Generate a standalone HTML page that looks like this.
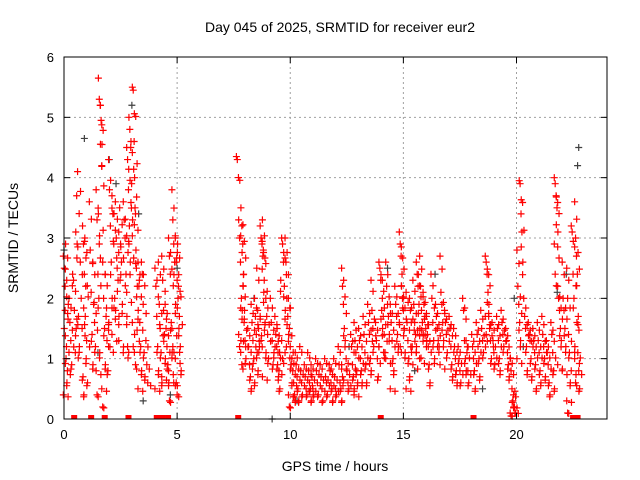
<!DOCTYPE html>
<html><head><meta charset="utf-8"><style>
body{margin:0;background:#fff}
svg{font-family:"Liberation Sans",sans-serif;display:block}
</style></head><body>
<svg id="chart" width="640" height="480" viewBox="0 0 640 480">
<rect width="640" height="480" fill="#fff"/>
<text x="340" y="32" font-size="14" text-anchor="middle">Day 045 of 2025, SRMTID for receiver eur2</text>
<text x="335" y="471" font-size="14" text-anchor="middle">GPS time / hours</text>
<text transform="translate(18,238) rotate(-90)" font-size="14" text-anchor="middle">SRMTID / TECUs</text>
<g id="grid"></g><g id="marks"></g><g id="axes"></g>
</svg>
<script>
const xTicks=[0,5,10,15,20];
const yTicks=[0,1,2,3,4,5,6];
const redTimes=[0.05,0.15,0.3,0.5,0.6,0.8,0.9,1.0,1.2,1.35,1.5,1.6,1.75,1.9,2.05,2.2,2.35,2.5,2.7,2.85,2.95,3.1,3.2,3.35,3.5,3.7,4.1,4.25,4.4,4.55,4.7,4.85,5.0,5.1,
7.7,7.8,7.9,8.0,8.2,8.35,8.5,8.6,8.75,8.85,9.0,9.2,9.4,9.5,9.7,9.85,10.0,10.15,10.3,10.5,10.7,10.85,11.0,11.2,11.4,11.6,11.8,12.0,12.2,12.35,12.55,12.75,12.9,
13.1,13.3,13.5,13.65,13.85,14.0,14.15,14.3,14.5,14.7,14.9,15.0,15.2,15.35,15.5,15.65,15.8,15.95,16.1,16.3,16.5,16.7,16.9,17.1,17.3,17.5,17.7,17.85,18.1,18.3,18.5,18.7,18.85,19.0,19.2,19.4,19.6,19.8,19.95,20.1,20.2,20.4,20.6,20.8,21.0,21.2,21.4,21.6,21.75,21.9,22.1,22.3,22.5,22.65,22.75];
const redValues=[[2.7,2.5,1.8,1.0,0.6,0.4,1.5,2.2],[2.9,1.2,0.8,1.9],[2.0,1.6,1.3,0.9,2.4],[2.3,1.8,1.1,1.5,2.9],[3.1,3.7,4.1,1.7,1.2],[2.6,2.0,1.5,0.7,0.4],[3.2,2.9,2.4,1.7,1.0],[3.0,2.2,1.3,0.6],[3.6,2.8,2.1,1.4,0.9],[2.6,1.9,1.6,1.2],[3.8,3.3,2.4,2.0,1.1,0.8,0.4],[5.65,5.3,5.2,4.95,4.55,3.4,2.9],[4.2,2.6,2.0,1.5,0.9,0.5,0.2],[2.4,1.7,1.3,0.8,1.6],[4.3,3.8,3.2,2.6,2.0,1.2],[3.7,3.4,2.9,2.0,1.8,1.4],[3.6,3.0,2.5,2.3,1.7],[3.1,3.5,2.9,2.6,1.9,1.3],[3.6,3.3,3.0,2.4,1.7,1.1],[4.5,4.3,3.8,3.2,2.6,2.1,1.2],[5.0,4.8,4.5,3.9,3.3,2.9],[5.5,5.45,4.6,3.5,2.8,1.6,1.2],[4.0,3.4,2.5,2.2,1.8,1.4,0.9],[2.6,2.2,1.6,1.2,0.8,0.5],[2.6,2.4,1.9,1.1,0.7],[1.3,0.9,0.6],[2.5,2.2,1.7,1.2,0.8,0.5],[2.6,1.9,1.5,1.1,0.6],[2.7,2.3,1.8,1.4,1.0,0.7],[1.9,1.5,1.2,0.9,0.6],[3.0,2.7,2.4,1.6,1.1,0.8,0.3],[3.8,3.3,2.9,2.6,1.9,1.5,1.2,0.6],[3.0,2.6,2.3,2.0,1.5,1.0,0.6,0.4],[2.9,2.2,1.7,1.2,0.8],
[4.35,4.3],[3.3,3.0,2.6,2.0,1.8,1.4,1.2],[3.5,3.2,2.9,2.4,1.8,1.3,0.9],[2.2,1.6,1.3,1.0],[1.5,1.2,0.9,0.7,0.5],[1.9,1.6,1.3,1.0,0.6],[2.0,1.7,1.4,1.1,0.8],[2.5,1.8,1.5,1.2],[3.2,3.0,2.9,2.7,2.1,1.7,1.3],[3.3,2.8,2.3,1.6,1.1,0.7],[2.0,1.7,1.4,1.0],[2.0,1.6,1.3,0.9,1.1],[1.7,1.4,1.2,0.9,0.7],[1.5,1.1,0.8,0.5,2.3],[3.0,2.9,2.6,2.2,1.8,1.3,1.0],[3.0,2.6,2.0,1.7,1.4,1.1],[2.0,1.5,1.2,0.9,0.6,0.4,0.2],[1.0,0.8,0.6,0.4,0.3],[1.1,0.9,0.7,0.5,0.3],[1.2,0.8,0.6,0.4],[0.9,0.7,0.5,0.4],[1.1,0.8,0.6,0.5,0.3],[0.9,0.7,0.5,0.4],[1.0,0.8,0.6,0.4],[0.9,0.7,0.5,0.3],[1.0,0.7,0.6,0.4],[0.9,0.8,0.6,0.5,0.3],[1.0,0.7,0.5,0.4],[1.2,0.9,0.6,0.5,0.3],[2.5,2.2,1.9,1.5,1.3,0.9,0.7],[1.0,0.8,0.6,0.5],[1.4,1.2,0.9,0.7,0.5],[1.6,1.3,1.1,0.8,0.6,0.4],
[1.5,1.3,1.0,0.8,0.6],[1.7,1.4,1.1,0.9,0.6],[1.9,1.6,1.4,1.0,0.8],[2.3,1.8,1.5,1.2],[1.6,1.3,1.0,0.7],[2.6,2.5,2.3,1.8,1.5,1.2],[2.0,1.7,1.4,1.1],[2.6,2.2,1.9,1.7,1.4,1.0],[1.9,1.6,1.3,1.0,0.8,0.5],[2.2,1.9,1.7,1.4,1.2],[3.1,2.9,2.7,2.4,2.0,1.6,1.2],[2.2,2.0,1.8,1.5,1.1],[2.1,1.6,1.3,1.0,0.7,0.5],[2.0,1.8,1.6,1.2],[2.3,1.9,1.6,1.4,1.2,0.9],[2.6,2.4,2.2,1.9,1.5,1.1],[2.7,2.2,1.8,1.6,1.4,1.0],[2.1,1.9,1.7,1.5,1.3],[1.7,1.4,1.2,0.9,0.6],[2.4,2.0,1.6,1.3,1.0],[1.9,1.7,1.5,1.3,1.2],[2.7,2.1,1.9,1.6,1.3,0.9],[1.8,1.6,1.4,1.1],[1.7,1.5,1.2,0.9,0.7],[1.5,1.2,1.0,0.8,0.6],[1.2,1.0,0.8,0.6],[2.0,1.8,1.3,1.0,0.8],[1.3,1.1,0.8,0.6],[1.4,1.2,1.0,0.8,0.5],[1.6,1.4,1.2,1.0,0.7],[1.8,1.5,1.3,1.1],[2.7,2.6,2.4,2.1,1.9,1.7,1.4],[1.7,1.5,1.3,1.0],[1.6,1.3,1.1,0.9],[1.7,1.5,1.3,1.0,0.8],[1.8,1.6,1.4,1.2],[1.5,1.3,1.1,0.9,0.7],[1.0,0.8,0.5,0.3,0.2,0.1,0.05],[0.4,0.2,0.1],[2.8,2.2,1.9,1.6,1.3,1.0],[3.95,3.9,3.4,3.1,2.6],[2.0,1.7,1.5,1.2,0.8],[1.6,1.4,1.3,1.0,0.7],[1.5,1.3,1.1,0.9,0.5],[1.6,1.3,1.1,0.8,0.6],[1.7,1.4,1.2,1.0,0.7],[1.3,1.1,0.9,0.6,0.4],[1.6,1.4,1.1,0.8,0.5],[4.0,3.9,3.7,3.5,3.1,2.9,2.4],[2.2,2.0,1.8,1.5,1.3,0.9],[2.6,2.0,1.8,1.5,1.2,0.8],[2.5,2.0,1.4,1.1,0.6,0.3,0.1],[3.2,3.1,2.4,2.0,1.2,0.8],[3.6,3.0,2.7,2.4,1.7,1.0,0.6],[1.6,1.1,0.8,0.5]];
const grayTimes=[0.0,0.9,1.5,2.0,2.3,3.0,3.3,3.5,4.7,5.0,8.4,9.2,10.3,12.6,14.3,15.5,16.4,18.5,19.9,20.3,21.8,22.2,22.7,22.75];
const grayValues=[2.8,4.65,1.1,4.3,3.9,5.2,3.4,0.3,0.4,2.5,2.0,0,0.3,1.2,2.5,0.8,2.4,0.5,2.0,1.2,2.1,2.4,4.2,4.5];
const zeroTimes=[0.45,1.2,1.8,2.85,4.1,4.25,4.35,4.6,7.7,14.0,18.1,22.5,22.7];

const X0=64,X1=607,Y0=419,Y1=57,XMAX=24,YMAX=6;
const xs=t=>X0+(t/XMAX)*(X1-X0);
const ys=v=>Y0-(v/YMAX)*(Y0-Y1);
const NS='http://www.w3.org/2000/svg';
function mk(tag,attrs,parent){const e=document.createElementNS(NS,tag);for(const k in attrs)e.setAttribute(k,attrs[k]);parent.appendChild(e);return e;}
const grid=document.getElementById('grid'),marks=document.getElementById('marks'),axes=document.getElementById('axes');
xTicks.forEach(t=>{
 if(t>0){const g=mk('line',{x1:xs(t),x2:xs(t),y1:Y1,y2:Y0,stroke:'#a0a0a0','stroke-dasharray':'2,3'},grid);
 
 }
 mk('line',{x1:xs(t),x2:xs(t),y1:Y0,y2:Y0-6,stroke:'#000'},axes);
 mk('line',{x1:xs(t),x2:xs(t),y1:Y1,y2:Y1+6,stroke:'#000'},axes);
 const l=mk('text',{x:xs(t),y:Y0+20,'font-size':13,'text-anchor':'middle'},axes);l.textContent=t;
 
 
});
yTicks.forEach(v=>{
 if(v>0&&v<YMAX){const g=mk('line',{x1:X0,x2:X1,y1:ys(v),y2:ys(v),stroke:'#a0a0a0','stroke-dasharray':'2,3'},grid);
 
 }
 mk('line',{x1:X0,x2:X0+6,y1:ys(v),y2:ys(v),stroke:'#000'},axes);
 mk('line',{x1:X1,x2:X1-6,y1:ys(v),y2:ys(v),stroke:'#000'},axes);
 const l=mk('text',{x:X0-10,y:ys(v)+5,'font-size':13,'text-anchor':'end'},axes);l.textContent=v;
 
 
});
const frame=mk('rect',{x:X0,y:Y1,width:X1-X0,height:Y0-Y1,fill:'none',stroke:'#000'},axes);


function plus(t,v,color,name){
 const x=xs(t),y=ys(v);
 const p=mk('path',{d:`M${x-3.5},${y}h7M${x},${y-3.5}v7`,stroke:color,'stroke-width':1.2,fill:'none'},marks);
 
 
}
grayTimes.forEach((t,i)=>plus(t,grayValues[i],'#404040','gray-point'));
redTimes.forEach((t,i)=>redValues[i].forEach((v,j)=>{
 plus(t+((j%5)-2)*0.04,v,'#ff0000','red-point');
 plus(t+((j%3)-1)*0.06+0.07,v*0.92,'#ff0000','red-point');
}));
zeroTimes.forEach(t=>{
 const r=mk('rect',{x:xs(t)-3,y:Y0-4,width:6,height:4,fill:'#ff0000'},marks);
 
 
});
</script>
</body></html>
